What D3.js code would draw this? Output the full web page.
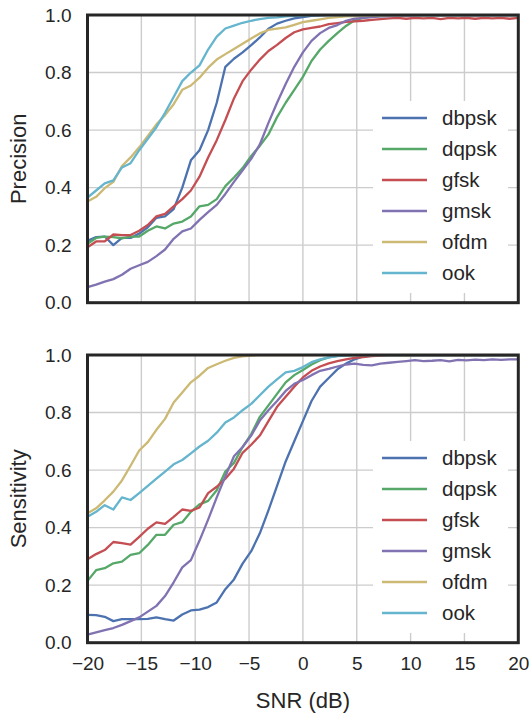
<!DOCTYPE html>
<html><head><meta charset="utf-8">
<script src="https://cdn.jsdelivr.net/npm/d3@7"></script>
<style>html,body{margin:0;padding:0;background:#fff;}svg{display:block;font-family:"Liberation Sans",Arial,sans-serif;}</style>
</head><body>
<svg id="chart" width="532" height="715"></svg>
<script>
const snr = [-20,-19.2,-18.4,-17.6,-16.8,-16,-15.2,-14.4,-13.6,-12.8,-12,-11.2,-10.4,-9.6,-8.8,-8,-7.2,-6.4,-5.6,-4.8,-4,-3.2,-2.4,-1.6,-0.8,0,0.8,1.6,2.4,3.2,4,4.8,5.6,6.4,7.2,8,8.8,9.6,10.4,11.2,12,12.8,13.6,14.4,15.2,16,16.8,17.6,18.4,19.2,20];
const modulations = ["dbpsk","dqpsk","gfsk","gmsk","ofdm","ook"];
const colors = ["#4C72B0","#55A868","#C44E52","#8172B2","#CCB974","#64B5CD"];
const xTicks = [-20,-15,-10,-5,0,5,10,15,20];
const yTicks = [0.0,0.2,0.4,0.6,0.8,1.0];

const precision_dbpsk = [0.215,0.228,0.23,0.2,0.225,0.225,0.24,0.262,0.295,0.3, 0.325,0.4,0.495,0.53,0.6,0.695,0.82,0.848,0.87,0.895, 0.922,0.952,0.97,0.98,0.988,0.993,0.997,0.999,1,1, 1,1,1,1,1,1,1,1,1,1, 1,1,1,1,1,1,1,1,1,1,1];
const precision_dqpsk = [0.205,0.225,0.23,0.228,0.224,0.23,0.23,0.25,0.265,0.258, 0.275,0.282,0.3,0.335,0.34,0.36,0.405,0.435,0.468,0.51, 0.545,0.585,0.645,0.695,0.74,0.785,0.84,0.88,0.91,0.937, 0.962,0.982,0.99,0.994,0.996,0.997,0.998,0.999,1,1, 1,1,1,1,1,1,1,1,1,1,1];
const precision_gfsk = [0.193,0.213,0.213,0.237,0.235,0.235,0.25,0.27,0.3,0.309, 0.335,0.36,0.39,0.438,0.505,0.565,0.635,0.71,0.77,0.81, 0.845,0.875,0.896,0.92,0.94,0.95,0.955,0.96,0.968,0.972, 0.976,0.978,0.98,0.983,0.986,0.988,0.99,0.987,0.99,0.988, 0.99,0.986,0.99,0.988,0.99,0.987,0.99,0.988,0.99,0.987,0.99];
const precision_gmsk = [0.054,0.063,0.073,0.082,0.097,0.118,0.13,0.142,0.162,0.185, 0.222,0.248,0.258,0.288,0.315,0.34,0.378,0.42,0.46,0.5, 0.55,0.625,0.695,0.76,0.82,0.87,0.91,0.937,0.955,0.965, 0.98,0.987,0.99,0.993,0.995,0.996,0.997,0.998,0.999,1, 1,1,1,1,1,1,1,1,1,1,1];
const precision_ofdm = [0.352,0.368,0.398,0.42,0.475,0.505,0.54,0.58,0.62,0.652, 0.69,0.74,0.755,0.782,0.817,0.845,0.864,0.882,0.9,0.918, 0.936,0.948,0.953,0.957,0.966,0.975,0.98,0.985,0.99,0.993, 0.995,0.996,0.997,0.998,0.998,0.999,0.999,1,1,1, 1,1,1,1,1,1,1,1,1,1,1];
const precision_ook = [0.365,0.39,0.415,0.425,0.47,0.485,0.53,0.57,0.61,0.66, 0.715,0.77,0.8,0.825,0.88,0.925,0.953,0.963,0.973,0.98, 0.986,0.99,0.992,0.995,0.997,0.998,0.999,1,1,1, 1,1,1,1,1,1,1,1,1,1, 1,1,1,1,1,1,1,1,1,1,1];

const sensitivity_dbpsk = [0.097,0.096,0.09,0.075,0.082,0.082,0.082,0.083,0.088,0.082, 0.077,0.098,0.112,0.115,0.124,0.14,0.186,0.22,0.275,0.318, 0.38,0.46,0.545,0.63,0.7,0.77,0.84,0.89,0.92,0.95, 0.97,0.985,0.995,0.998,1,1,1,1,1,1, 1,1,1,1,1,1,1,1,1,1,1];
const sensitivity_dqpsk = [0.215,0.252,0.259,0.276,0.282,0.305,0.311,0.34,0.375,0.375, 0.41,0.419,0.455,0.481,0.493,0.53,0.595,0.625,0.68,0.725, 0.785,0.825,0.865,0.905,0.93,0.948,0.967,0.982,0.992,0.997, 0.999,1,1,1,1,1,1,1,1,1, 1,1,1,1,1,1,1,1,1,1,1];
const sensitivity_gfsk = [0.29,0.308,0.322,0.35,0.346,0.341,0.368,0.396,0.418,0.413, 0.437,0.463,0.458,0.47,0.52,0.542,0.57,0.605,0.66,0.688, 0.72,0.77,0.82,0.855,0.89,0.922,0.945,0.96,0.971,0.979, 0.985,0.99,0.993,0.996,0.998,1,1,1,1,1, 1,1,1,1,1,1,1,1,1,1,1];
const sensitivity_gmsk = [0.028,0.036,0.044,0.051,0.062,0.075,0.088,0.108,0.128,0.162, 0.21,0.262,0.287,0.355,0.428,0.505,0.578,0.648,0.68,0.72, 0.772,0.808,0.84,0.875,0.9,0.913,0.93,0.945,0.952,0.96, 0.967,0.97,0.966,0.964,0.97,0.973,0.976,0.979,0.982,0.979, 0.98,0.982,0.978,0.983,0.981,0.984,0.982,0.985,0.983,0.985,0.985];
const sensitivity_ofdm = [0.45,0.467,0.495,0.525,0.564,0.615,0.668,0.697,0.74,0.778, 0.835,0.87,0.905,0.928,0.955,0.968,0.98,0.99,0.995,0.998, 1,1,1,1,1,1,1,1,1,1, 1,1,1,1,1,1,1,1,1,1, 1,1,1,1,1,1,1,1,1,1,1];
const sensitivity_ook = [0.438,0.455,0.478,0.463,0.505,0.496,0.52,0.545,0.57,0.595, 0.62,0.635,0.658,0.682,0.702,0.73,0.765,0.783,0.808,0.83, 0.86,0.89,0.915,0.94,0.945,0.958,0.975,0.985,0.992,0.996, 0.998,1,1,1,1,1,1,1,1,1, 1,1,1,1,1,1,1,1,1,1,1];

const precisionSeries = [precision_dbpsk,precision_dqpsk,precision_gfsk,precision_gmsk,precision_ofdm,precision_ook];
const sensitivitySeries = [sensitivity_dbpsk,sensitivity_dqpsk,sensitivity_gfsk,sensitivity_gmsk,sensitivity_ofdm,sensitivity_ook];

const svg = d3.select("#chart");
const L = 87.5, R = 518.3;
const x = d3.scaleLinear().domain([-20,20]).range([L,R]);
const ink = "#262626";

function panel(top, bottom, series, label, showX, id) {
  const y = d3.scaleLinear().domain([0,1]).range([bottom, top]);
  const g = svg.append("g");
  g.append("defs").append("clipPath").attr("id", id)
    .append("rect").attr("x", L).attr("y", top).attr("width", R-L).attr("height", bottom-top);
  // grid
  g.append("g").selectAll("line.v").data(xTicks).join("line")
    .attr("x1", d=>x(d)).attr("x2", d=>x(d)).attr("y1", top).attr("y2", bottom)
    .attr("stroke", "#cccccc").attr("stroke-width", 1.4);
  g.append("g").selectAll("line.h").data(yTicks).join("line")
    .attr("x1", L).attr("x2", R).attr("y1", d=>y(d)).attr("y2", d=>y(d))
    .attr("stroke", "#cccccc").attr("stroke-width", 1.4);
  // lines
  const line = d3.line().x((d,i)=>x(snr[i])).y(d=>y(d));
  const lg = g.append("g").attr("clip-path", `url(#${id})`);
  series.forEach((s,k)=>{
    lg.append("path").attr("d", line(s)).attr("fill","none")
      .attr("stroke", colors[k]).attr("stroke-width", 2.3).attr("stroke-linejoin","round");
  });
  // legend
  const lgd = g.append("g");
  lgd.append("rect").attr("x", 373).attr("y", top+86).attr("width", 135).attr("height", 192).attr("fill", "#fff");
  modulations.forEach((m,k)=>{
    const yy = top + 103 + k*31;
    lgd.append("line").attr("x1", 382).attr("x2", 427).attr("y1", yy).attr("y2", yy)
      .attr("stroke", colors[k]).attr("stroke-width", 2.3);
    lgd.append("text").attr("x", 442).attr("y", yy).attr("dy", "0.35em")
      .attr("font-size", 20.5).attr("fill", ink).text(m);
  });
  // frame
  g.append("rect").attr("x", L).attr("y", top).attr("width", R-L).attr("height", bottom-top)
    .attr("fill","none").attr("stroke", ink).attr("stroke-width", 3);
  // y axis labels
  const ya = d3.axisLeft(y).tickValues(yTicks).tickFormat(d3.format(".1f")).tickSize(0).tickPadding(16);
  const yg = g.append("g").attr("transform", `translate(${L},0)`).call(ya);
  yg.select(".domain").remove();
  yg.selectAll("text").attr("font-size", 19).attr("fill", ink).attr("font-family", "Liberation Sans, Arial, sans-serif");
  if (showX) {
    const xa = d3.axisBottom(x).tickValues(xTicks).tickFormat(d => d < 0 ? "\u2212" + Math.abs(d) : String(d)).tickSize(0).tickPadding(14);
    const xg = g.append("g").attr("transform", `translate(0,${bottom})`).call(xa);
    xg.select(".domain").remove();
    xg.selectAll("text").attr("font-size", 19).attr("fill", ink).attr("font-family", "Liberation Sans, Arial, sans-serif");
  }
  g.append("text").attr("transform", `translate(26,${(top+bottom)/2}) rotate(-90)`)
    .attr("text-anchor","middle").attr("font-size", 22).attr("fill", ink).text(label);
}

panel(15, 302.7, precisionSeries, "Precision", false, "clipTop");
panel(355, 642.7, sensitivitySeries, "Sensitivity", true, "clipBot");

svg.append("text").attr("x", (L+R)/2).attr("y", 708).attr("text-anchor","middle")
  .attr("font-size", 22).attr("fill", ink).text("SNR (dB)");
</script>
</body></html>
